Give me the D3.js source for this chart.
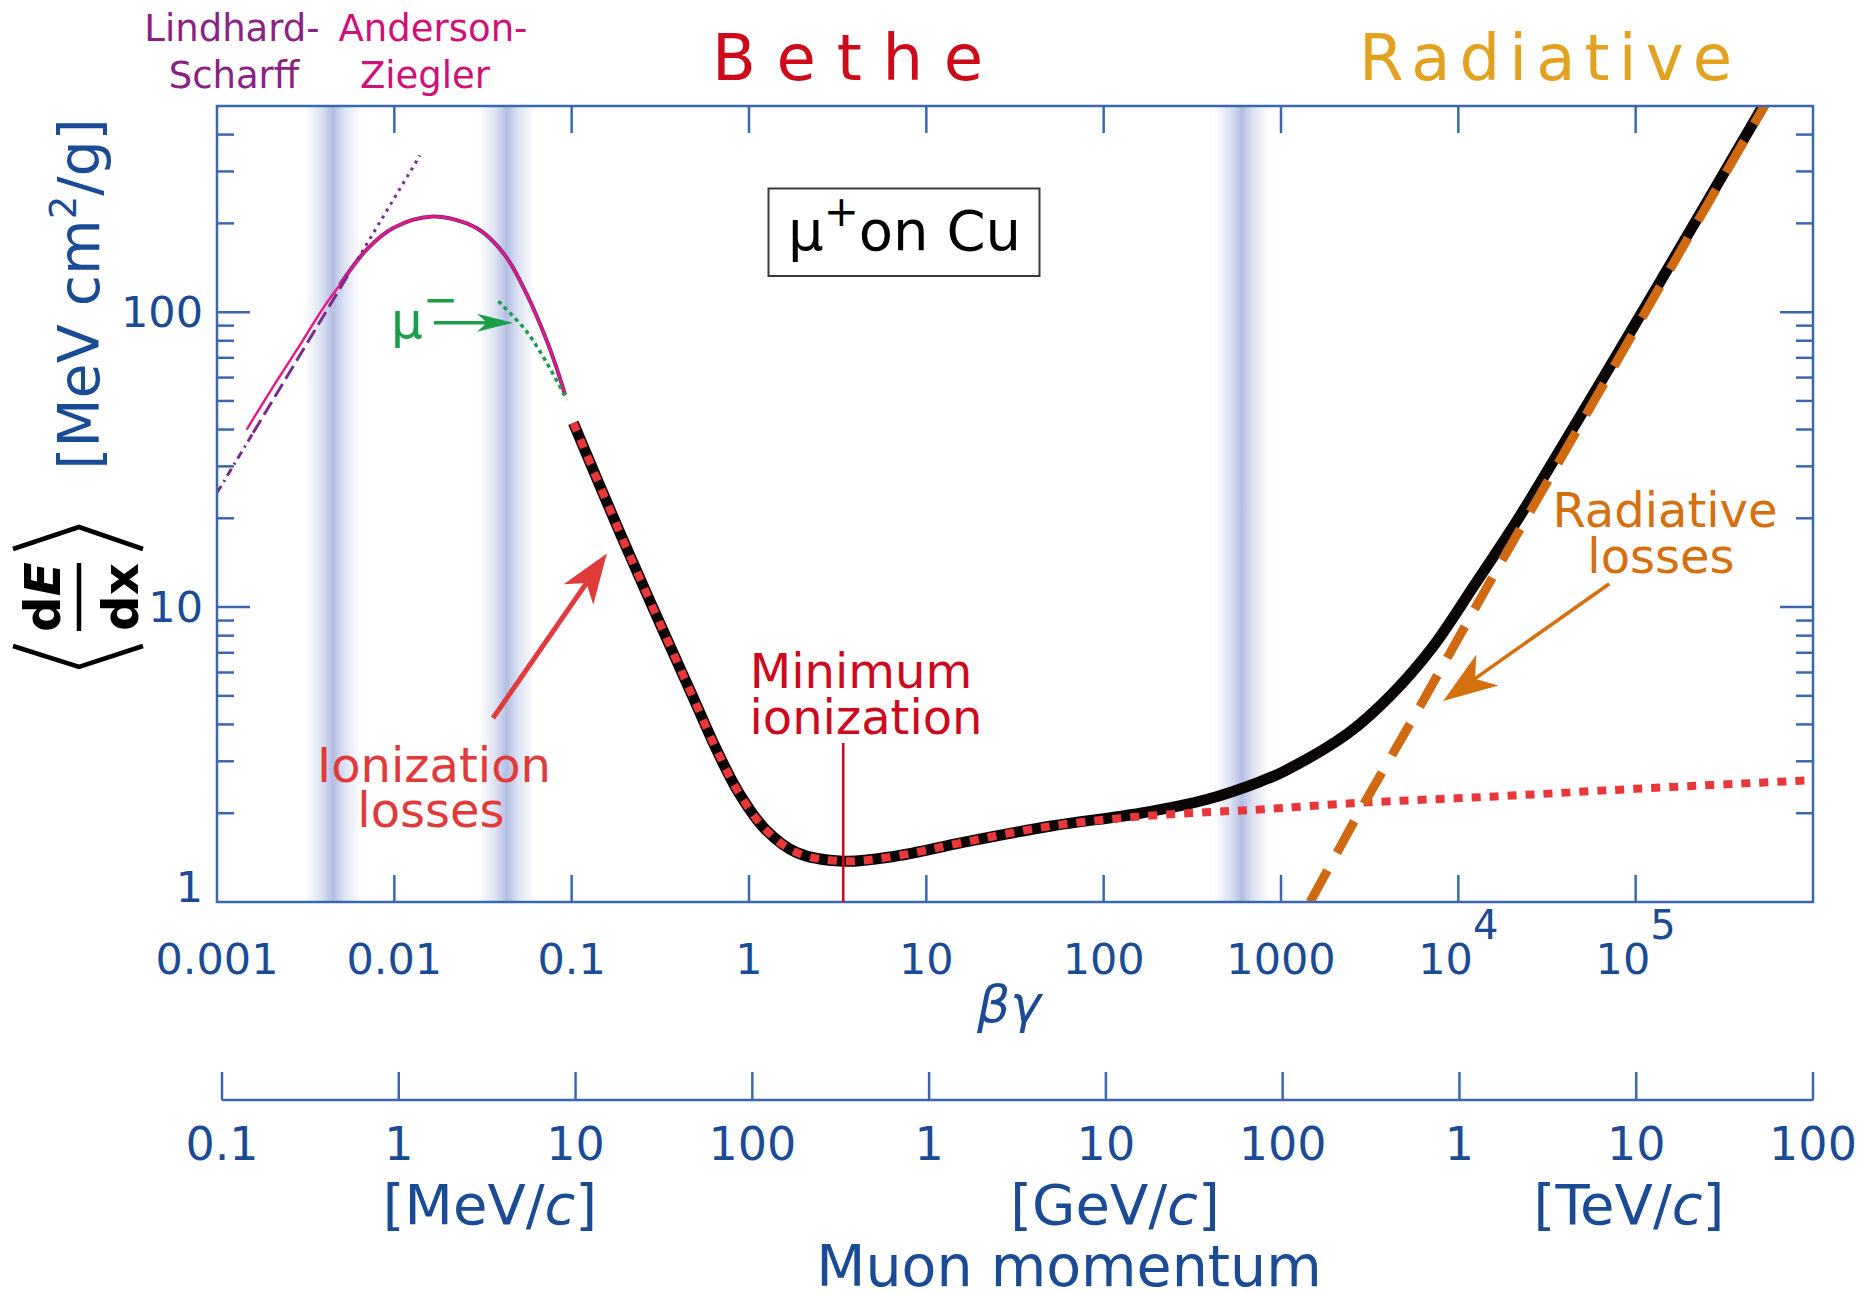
<!DOCTYPE html>
<html>
<head>
<meta charset="utf-8">
<script src="https://cdn.jsdelivr.net/npm/d3@7"></script>
<style>
  body { margin: 0; background: #fff; }
  svg { display: block; font-family: "DejaVu Sans", sans-serif; }
</style>
</head>
<body>
<div id="chart"></div>
<script>
// ---- data (beta*gamma, <dE/dx> in MeV cm^2/g) ----
const bandCenters = [0.0045, 0.043, 600];

// Anderson-Ziegler mu+ curve (low energy)
const azBG   = [0.00147, 0.002, 0.003, 0.004, 0.00494, 0.00698, 0.00986, 0.0165, 0.0256, 0.0318, 0.043, 0.0558, 0.0724, 0.0806, 0.0918];
const azLoss = [40, 54, 79, 104, 124, 163, 193, 211, 200, 186, 153, 115, 80, 67, 52.5];

// Lindhard-Scharff straight line, split by line style
const lsDashDotBG = [0.001, 0.0016],  lsDashDotLoss = [24.4, 39];
const lsDashedBG  = [0.0016, 0.0055], lsDashedLoss  = [39, 134];
const lsDottedBG  = [0.0062, 0.01396], lsDottedLoss = [151, 340];

// mu- (green dotted)
const muMinusBG   = [0.0386, 0.0546, 0.0724, 0.0939];
const muMinusLoss = [108.8, 87.3, 67.3, 50.5];

// total stopping power (black)
const totalBG   = [0.1022, 0.1875, 0.274, 0.366, 0.49, 0.655, 0.875, 1.24, 1.86, 3.4, 6.65, 15.9, 50.6, 161, 385, 764, 1047, 2385, 4130, 7140, 12360, 21380, 31300, 84100, 252000, 531000, 600000];
const totalLoss = [42.1, 17.8, 10.6, 7.18, 4.86, 3.29, 2.35, 1.76, 1.47, 1.375, 1.43, 1.59, 1.81, 2.0, 2.23, 2.56, 2.78, 3.73, 5.0, 7.3, 11.9, 19.6, 28.5, 77, 236, 508, 575];

// ionization only (red dotted)
const ionBG   = [0.1022, 0.1875, 0.274, 0.366, 0.49, 0.655, 0.875, 1.24, 1.86, 3.4, 6.65, 15.9, 50.6, 161, 413, 764, 2812, 16250, 100000, 1000000];
const ionLoss = [42.1, 17.8, 10.6, 7.18, 4.86, 3.29, 2.35, 1.76, 1.47, 1.375, 1.43, 1.59, 1.81, 1.95, 2.02, 2.06, 2.17, 2.28, 2.42, 2.59];

// radiative only (orange dashed)
const radBG   = [1460, 2800, 5700, 16250, 43600, 252000, 531000, 700000];
const radLoss = [1, 2.05, 4.3, 13.2, 37, 230, 500, 670];

// tick labels
const xTickValues = [1e-3, 1e-2, 1e-1, 1, 10, 100, 1000, 1e4, 1e5];
const xTickLabels = ["0.001", "0.01", "0.1", "1", "10", "100", "1000", "10^4", "10^5"];
const yTickLabels = ["1", "10", "100"];
const pTickValues = [0.1, 1, 10, 100, 1e3, 1e4, 1e5, 1e6, 1e7, 1e8]; // MeV/c
const pTickLabels = ["0.1", "1", "10", "100", "1", "10", "100", "1", "10", "100"];
const minIonBG = 3.4;

// ---- layout ----
const W = 1862, H = 1293;
const plot = { left: 217, right: 1813, top: 106, bottom: 902 };
const blue = "#1a4b94", axisBlue = "#3a68b0";

const x = d3.scaleLog().domain([1e-3, 1e6]).range([plot.left, plot.right]);
const y = d3.scaleLog().domain([1, 500]).range([plot.bottom, plot.top]);
const p = d3.scaleLog().domain([0.1, 1e8]).range([222, 1813]);

const zip = (a, b) => a.map((v, i) => [v, b[i]]);
const line = d3.line().x(d => x(d[0])).y(d => y(d[1])).curve(d3.curveCatmullRom.alpha(0.5));
const straight = d3.line().x(d => x(d[0])).y(d => y(d[1]));

const svg = d3.select("#chart").append("svg").attr("width", W).attr("height", H);
svg.append("rect").attr("width", W).attr("height", H).attr("fill", "#fff");
const defs = svg.append("defs");
defs.append("clipPath").attr("id", "clip").append("rect")
  .attr("x", plot.left).attr("y", plot.top)
  .attr("width", plot.right - plot.left).attr("height", plot.bottom - plot.top);

//soft blue bands marking the regime boundaries
const grad = defs.append("linearGradient").attr("id", "band");
[[0, 0], [0.3, 0.45], [0.5, 1], [0.7, 0.45], [1, 0]].forEach(([o, a]) =>
  grad.append("stop").attr("offset", o).attr("stop-color", "#b2bee2").attr("stop-opacity", a));
svg.append("g").selectAll("rect").data(bandCenters).join("rect")
  .attr("x", d => x(d) - 28).attr("width", 56)
  .attr("y", plot.top).attr("height", plot.bottom - plot.top)
  .attr("fill", "url(#band)");

const g = svg.append("g").attr("clip-path", "url(#clip)");

// low energy curves
g.append("path").attr("d", line(zip(azBG, azLoss).filter(d => d[0] >= 0.0049)))
  .attr("fill", "none").attr("stroke", "#6a2c8e").attr("stroke-width", 4);
g.append("path").attr("d", line(zip(azBG, azLoss)))
  .attr("fill", "none").attr("stroke", "#e8187f").attr("stroke-width", 2.4);
g.append("path").attr("d", straight(zip(lsDashDotBG, lsDashDotLoss)))
  .attr("fill", "none").attr("stroke", "#7a2a8c").attr("stroke-width", 3)
  .attr("stroke-dasharray", "8 5 2 5");
g.append("path").attr("d", straight(zip(lsDashedBG, lsDashedLoss)))
  .attr("fill", "none").attr("stroke", "#7a2a8c").attr("stroke-width", 3)
  .attr("stroke-dasharray", "15 6");
g.append("path").attr("d", straight(zip(lsDottedBG, lsDottedLoss)))
  .attr("fill", "none").attr("stroke", "#7a2a8c").attr("stroke-width", 3)
  .attr("stroke-dasharray", "3 5");
g.append("path").attr("d", line(zip(muMinusBG, muMinusLoss)))
  .attr("fill", "none").attr("stroke", "#1a9e48").attr("stroke-width", 3.5)
  .attr("stroke-dasharray", "4 4");

// total, ionization, radiative
g.append("path").attr("d", line(zip(totalBG, totalLoss)))
  .attr("fill", "none").attr("stroke", "#0a0606").attr("stroke-width", 11);
g.append("path").attr("d", line(zip(ionBG, ionLoss)))
  .attr("fill", "none").attr("stroke", "#e8373a").attr("stroke-width", 8)
  .attr("stroke-dasharray", "9 9");
g.append("path").attr("d", straight(zip(radBG, radLoss)))
  .attr("fill", "none").attr("stroke", "#d06a12").attr("stroke-width", 9)
  .attr("stroke-dasharray", "36 20");

// ---- frame and ticks ----
const ax = svg.append("g").attr("stroke", axisBlue).attr("stroke-width", 2.5).attr("fill", "none");
ax.append("rect").attr("x", plot.left).attr("y", plot.top)
  .attr("width", plot.right - plot.left).attr("height", plot.bottom - plot.top);
const isDecade = v => Math.abs(Math.log10(v) - Math.round(Math.log10(v))) < 1e-9;
const xDec = x.ticks().filter(isDecade).filter(v => v > 1e-3 && v < 1e6);
xDec.forEach(v => {
  ax.append("line").attr("x1", x(v)).attr("x2", x(v)).attr("y1", plot.top).attr("y2", plot.top + 27);
  ax.append("line").attr("x1", x(v)).attr("x2", x(v)).attr("y1", plot.bottom).attr("y2", plot.bottom - 27);
});
y.ticks().filter(v => v > 1 && v < 500).forEach(v => {
  const len = isDecade(v) ? 33 : 17;
  ax.append("line").attr("x1", plot.left).attr("x2", plot.left + len).attr("y1", y(v)).attr("y2", y(v));
  ax.append("line").attr("x1", plot.right).attr("x2", plot.right - len).attr("y1", y(v)).attr("y2", y(v));
});

// tick labels
const tl = svg.append("g").attr("fill", blue).attr("font-size", 43);
xTickValues.forEach((v, i) => {
  const t = tl.append("text").attr("x", x(v)).attr("y", 974).attr("text-anchor", "middle");
  const parts = xTickLabels[i].split("^");
  t.append("tspan").text(parts[0]);
  if (parts[1]) t.append("tspan").attr("dy", -35).attr("font-size", 40).text(parts[1]);
});
yTickLabels.forEach(s => {
  const v = +s;
  tl.append("text").attr("x", 203).attr("y", v === 1 ? plot.bottom : y(v) + 15)
    .attr("text-anchor", "end").text(s);
});
svg.append("text").attr("x", 1009).attr("y", 1022).attr("text-anchor", "middle")
  .attr("fill", blue).attr("font-size", 52).attr("font-style", "italic").text("βγ");

// momentum axis
const pa = svg.append("g").attr("stroke", axisBlue).attr("stroke-width", 2.5);
pa.append("line").attr("x1", p(0.1)).attr("x2", p(1e8)).attr("y1", 1100).attr("y2", 1100);
pTickValues.forEach(v => pa.append("line").attr("x1", p(v)).attr("x2", p(v)).attr("y1", 1100).attr("y2", 1072));
const pl = svg.append("g").attr("fill", blue).attr("font-size", 46);
pTickValues.forEach((v, i) => pl.append("text").attr("x", p(v)).attr("y", 1160)
  .attr("text-anchor", "middle").text(pTickLabels[i]));
[["MeV", 490], ["GeV", 1115], ["TeV", 1629]].forEach(([u, cx]) => {
  const t = svg.append("text").attr("x", cx).attr("y", 1224).attr("text-anchor", "middle")
    .attr("fill", blue).attr("font-size", 56);
  t.append("tspan").text("[" + u + "/");
  t.append("tspan").attr("font-style", "italic").text("c");
  t.append("tspan").text("]");
});
svg.append("text").attr("x", 1069).attr("y", 1286).attr("text-anchor", "middle")
  .attr("fill", blue).attr("font-size", 57).text("Muon momentum");

// y axis title
const yt = svg.append("text").attr("transform", "translate(99,294) rotate(-90)")
  .attr("text-anchor", "middle").attr("fill", blue).attr("font-size", 57);
yt.append("tspan").text("[MeV cm");
yt.append("tspan").attr("dy", -23).attr("font-size", 37).text("2");
yt.append("tspan").attr("dy", 23).text("/g]");

const frac = svg.append("g").attr("transform", "translate(79,597) rotate(-90)")
  .attr("font-weight", "bold").attr("font-size", 50).attr("text-anchor", "middle");
const num = frac.append("text").attr("x", 0).attr("y", -19);
num.append("tspan").text("d");
num.append("tspan").attr("font-style", "italic").text("E");
frac.append("text").attr("x", 0).attr("y", 59).text("dx");
frac.append("line").attr("x1", -34).attr("x2", 34).attr("y1", 0).attr("y2", 0)
  .attr("stroke", "#000").attr("stroke-width", 4.5);
svg.append("path").attr("d", "M13,549L79,527L143,549M13,646L79,667L143,646")
  .attr("fill", "none").attr("stroke", "#000").attr("stroke-width", 4.5);

// ---- regime titles ----
const title = (tx, ty, s, color, size) =>
  svg.append("text").attr("x", tx).attr("y", ty).attr("text-anchor", "middle")
    .attr("fill", color).attr("font-size", size).text(s);
title(232, 41, "Lindhard-", "#8b2283", 37);
title(234, 88, "Scharff", "#8b2283", 37);
title(433, 41, "Anderson-", "#d10f78", 37);
title(425, 88, "Ziegler", "#d10f78", 37);
svg.append("text").attr("x", 712).attr("y", 80).attr("fill", "#cc0a1a").attr("font-size", 64)
  .attr("textLength", 271).attr("lengthAdjust", "spacing").text("Bethe");
svg.append("text").attr("x", 1359).attr("y", 80).attr("fill", "#e2a11f").attr("font-size", 64)
  .attr("textLength", 373).attr("lengthAdjust", "spacing").text("Radiative");

// mu+ on Cu box
svg.append("rect").attr("x", 768.5).attr("y", 188.5).attr("width", 271).attr("height", 87.5)
  .attr("fill", "#fff").attr("stroke", "#3a3a3a").attr("stroke-width", 2);
const box = svg.append("text").attr("x", 788).attr("y", 250).attr("font-size", 56).attr("fill", "#000");
box.append("tspan").text("μ");
box.append("tspan").attr("dy", -24).attr("font-size", 42).text("+");
box.append("tspan").attr("dy", 24).text("on Cu");

// ---- annotations ----
function arrow(x1, y1, x2, y2, color, w, len, half) {
  const a = Math.atan2(y2 - y1, x2 - x1), c = Math.cos(a), s = Math.sin(a);
  const bx = x2 - len * c, by = y2 - len * s;
  const nx = x2 - len * 0.72 * c, ny = y2 - len * 0.72 * s;
  svg.append("line").attr("x1", x1).attr("y1", y1).attr("x2", nx).attr("y2", ny)
    .attr("stroke", color).attr("stroke-width", w);
  svg.append("path")
    .attr("d", `M${x2},${y2}L${bx - half * s},${by + half * c}L${nx},${ny}L${bx + half * s},${by - half * c}Z`)
    .attr("fill", color);
}
const mu = svg.append("text").attr("x", 391).attr("y", 338).attr("fill", "#1a9e48").attr("font-size", 50);
mu.append("tspan").text("μ");
mu.append("tspan").attr("dy", -24).attr("font-size", 42).text("−");
arrow(434, 322.7, 513, 322.7, "#1a9e48", 3.5, 36, 9);

title(434, 782, "Ionization", "#e03a3a", 48);
title(431, 827, "losses", "#e03a3a", 48);
arrow(x(0.036), y(4.2), x(0.158), y(15.2), "#e03a3a", 5, 50, 18);

title(861, 688, "Minimum", "#cc0a1e", 48);
title(866, 734, "ionization", "#cc0a1e", 48);
svg.append("line").attr("x1", x(minIonBG)).attr("x2", x(minIonBG)).attr("y1", 743).attr("y2", plot.bottom)
  .attr("stroke", "#cc0a1e").attr("stroke-width", 2.5);

title(1665, 527, "Radiative", "#d5700e", 48);
title(1661, 573, "losses", "#d5700e", 48);
arrow(x(71000), y(12), x(8220), y(4.8), "#d5700e", 3.5, 54, 19);
</script>
</body>
</html>
